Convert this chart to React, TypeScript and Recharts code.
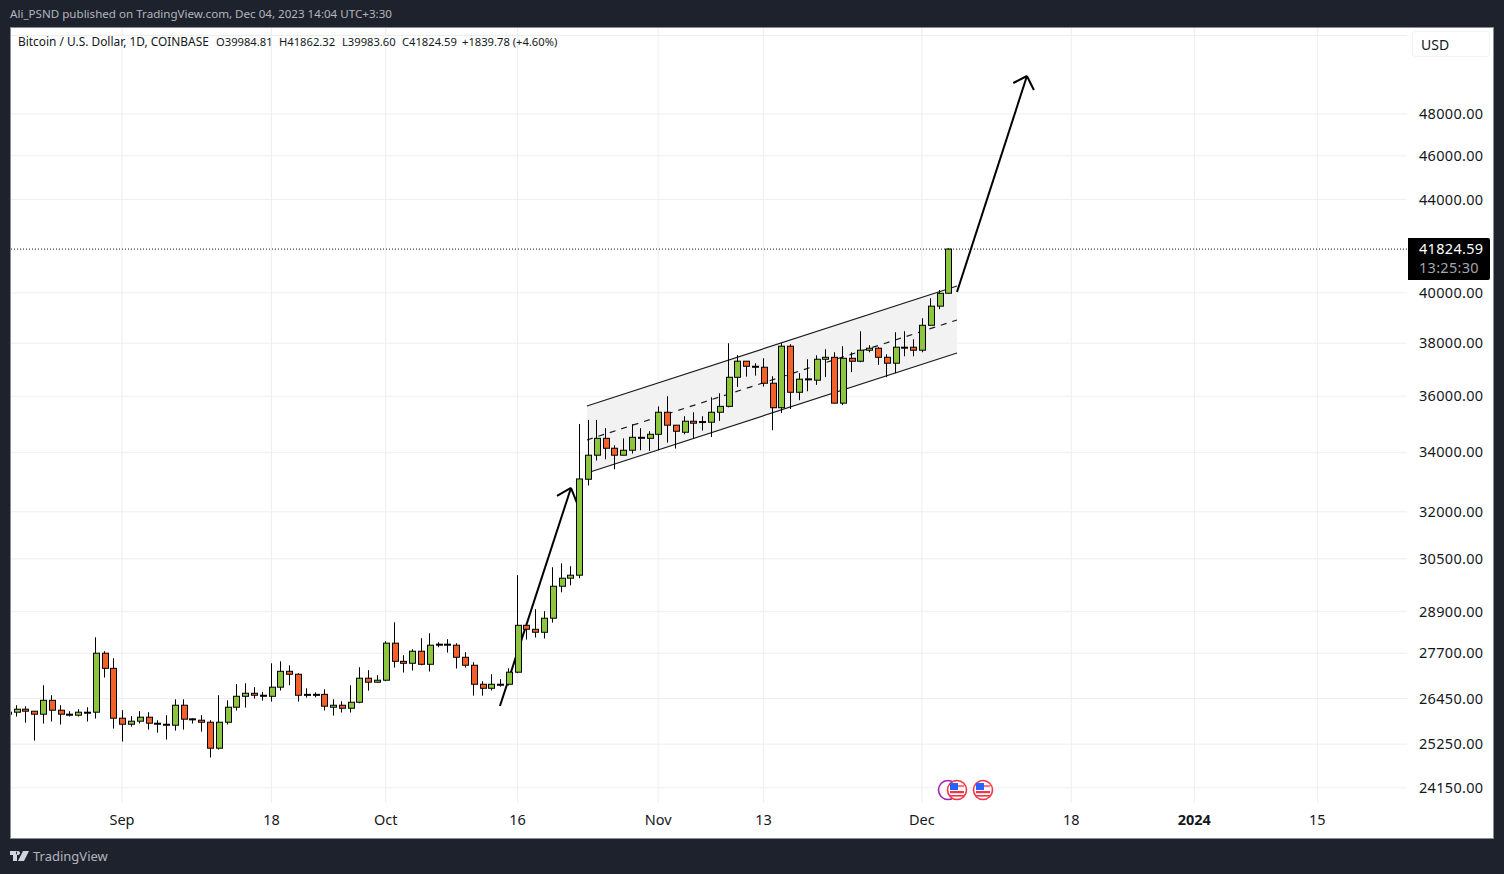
import React from 'react';
import { Area, Bar, CartesianGrid, ComposedChart, ReferenceLine, XAxis, YAxis } from 'recharts';

// day number counted from Sep 1 2023, first candle is Aug 19
const firstDay = -13;

const opens = [
  26086, 26086, 26166, 26113, 26033, 26404, 26139, 26033, 26007, 26077, 26086, 27703, 27279, 25927, 25768, 25848, 25954, 25795,
  25768, 25742, 26272, 25910, 25874, 25821, 25146, 25821, 26219, 26513, 26595, 26513, 26513, 26760, 27197, 27115, 26556, 26556,
  26565, 26219, 26272, 26192, 26352, 27006, 26896, 26951, 27988, 27475, 27420, 27759, 27392, 27930, 27930, 27930, 27588, 27365,
  26840, 26730, 26831, 26840, 27172, 28502, 28387, 28301, 28709, 29660, 29904, 29996, 33078, 33899, 34487, 34140, 33899, 34071,
  34523, 34487, 34630, 35416, 34952, 34702, 35094, 35070, 35059, 35416, 35630, 36701, 37308, 37116, 37079, 36480, 35581, 37883,
  36145, 36631, 36593, 37382, 37457, 35746, 37419, 37307, 37728, 37806, 37457, 37232, 37832, 37844, 37728, 38699, 39461, 39984.81,
];
const highs = [
  26104, 26272, 26245, 26113, 26814, 26541, 26272, 26113, 26166, 26219, 28157, 27760, 27561, 26139, 25980, 26113, 26086, 25874,
  26007, 26431, 26431, 25927, 26007, 25874, 26541, 26404, 26842, 26869, 26760, 26632, 27419, 27476, 27362, 27143, 26730, 26620,
  26702, 26432, 26379, 26813, 27310, 27227, 27089, 28045, 28591, 27645, 27816, 28130, 28273, 28016, 28102, 27988, 27731, 27448,
  26923, 27116, 26978, 27282, 29996, 28502, 28974, 28915, 30240, 30362, 30271, 34996, 35142, 35142, 34845, 34244, 34487, 34987,
  34845, 34737, 35630, 35999, 34952, 35273, 35416, 35273, 35963, 36110, 37996, 37537, 37308, 37231, 37422, 36743, 38000, 37961,
  36856, 37382, 37534, 37767, 37650, 37883, 37650, 38466, 37922, 37844, 37573, 38427, 38466, 38155, 38978, 39782, 40117, 41862.32,
];
const lows = [
  26016, 25971, 25812, 25342, 25786, 25839, 25760, 25971, 25971, 25839, 25918, 27024, 25654, 25317, 25707, 25786, 25627, 25548,
  25368, 25601, 25627, 25786, 25574, 24907, 25112, 25760, 26130, 26210, 26449, 26395, 26369, 26668, 26814, 26369, 26477, 26485,
  26130, 25997, 26077, 26077, 26326, 26666, 26886, 26923, 27300, 27162, 27218, 27365, 27190, 27873, 27721, 27273, 27300, 26530,
  26530, 26666, 26776, 26804, 27144, 28092, 28149, 28121, 28581, 29477, 29690, 29904, 32867, 33715, 33761, 33416, 33899, 33956,
  34071, 34048, 34071, 34336, 34129, 34630, 34487, 34761, 34535, 35106, 35594, 36344, 36726, 36763, 36356, 34774, 35387, 35533,
  35855, 36182, 36418, 36706, 35746, 35675, 36893, 37269, 37650, 37169, 36706, 36856, 37495, 37495, 37650, 38699, 39340, 39983.6,
];
const closes = [
  26033, 26166, 26113, 26033, 26404, 26139, 26033, 26007, 26086, 26086, 27703, 27279, 25927, 25768, 25848, 25954, 25795, 25768,
  25742, 26272, 25901, 25901, 25821, 25146, 25821, 26219, 26513, 26595, 26541, 26541, 26760, 27197, 27115, 26541, 26565, 26565,
  26246, 26272, 26192, 26352, 27006, 26896, 26951, 27988, 27475, 27420, 27759, 27392, 27930, 27959, 27959, 27588, 27365, 26840,
  26730, 26840, 26840, 27172, 28502, 28387, 28301, 28709, 29660, 29904, 29996, 33088, 33899, 34487, 34140, 33899, 34071, 34523,
  34523, 34630, 35416, 34952, 34737, 35094, 35023, 35082, 35416, 35630, 36701, 37308, 37116, 37079, 36479, 35581, 37883, 36145,
  36631, 36643, 37382, 37457, 35746, 37419, 37307, 37728, 37806, 37457, 37232, 37844, 37844, 37728, 38699, 39461, 39983, 41824.59,
];

const priceTicks = [48000, 46000, 44000, 40000, 38000, 36000, 34000, 32000, 30500, 28900, 27700, 26450, 25250, 24150];
const dayTicks = [0, 17, 30, 45, 61, 73, 91, 108, 122, 136];
const dayLabels = ['Sep', '18', 'Oct', '16', 'Nov', '13', 'Dec', '18', '2024', '15'];

const lastPrice = 41824.59;

// parallel channel and the two hand drawn arrows: [day, price]
const channelDays = [52.9, 95];
const channelTop = [35643, 40281];
const channelMid = [34429, 38909];
const channelBottom = [33289, 37622];
const smallArrow = [[43, 26251], [51.08, 32786]];
const smallArrowHead = [[49.49, 32519], [51.08, 32786], [51.76, 32288]];
const bigArrow = [[95, 40035], [102.96, 49896]];
const bigArrowHead = [[101.4, 49541], [102.96, 49896], [103.75, 49189]];

const candles = opens.map((open, i) => ({
  day: firstDay + i,
  open,
  close: closes[i],
  wick: [lows[i], highs[i]],
  body: [Math.min(open, closes[i]), Math.max(open, closes[i])],
}));

const channelRows = channelDays.map((day, i) => ({ day, band: [channelBottom[i], channelTop[i]] }));

const uiFont = '"Noto Sans", sans-serif';
const gridColor = '#eeeeee';

function seg(a: number[], b: number[]) {
  return [{ x: a[0], y: a[1] }, { x: b[0], y: b[1] }] as any;
}

function Wick(props: any) {
  const { x, y, width, height } = props;
  const cx = Math.round(x + width / 2) + 0.5;
  return <line x1={cx} x2={cx} y1={y} y2={y + height} stroke="#000" strokeWidth={1} />;
}

function Body(props: any) {
  const { x, y, width, height, payload } = props;
  const up = payload.close >= payload.open;
  const left = Math.round(x + width / 2) - 2.5;
  return (
    <rect x={left} y={y} width={6} height={Math.max(height, 1)} fill={up ? '#8cc63f' : '#f4602a'} stroke="#000" strokeWidth={1} />
  );
}

function Flag({ x }: { x: number }) {
  return (
    <g transform={`translate(${x} 790)`}>
      <circle r={9.5} fill="#fff" stroke="#f23645" strokeWidth={1.6} />
      <rect x={-7} y={-5} width={14} height={2.2} fill="#f77c80" />
      <rect x={-7} y={1} width={14} height={2.2} fill="#f23645" />
      <rect x={-7} y={5} width={14} height={1.6} fill="#f23645" />
      <rect x={-7} y={-7} width={8} height={7} fill="#2962ff" />
    </g>
  );
}

const ohlcLabels = [
  { text: 'O39984.81', left: 216 },
  { text: 'H41862.32', left: 279 },
  { text: 'L39983.60', left: 342 },
  { text: 'C41824.59', left: 402 },
  { text: '+1839.78 (+4.60%)', left: 462 },
];

function Header() {
  return (
    <>
      <div style={{ position: 'absolute', left: 10, top: 6, fontSize: 11.6, color: '#b2b5be', whiteSpace: 'nowrap' }}>
        Ali_PSND published on TradingView.com, Dec 04, 2023 14:04 UTC+3:30
      </div>
      <div style={{ position: 'absolute', left: 18, top: 33, fontSize: 11.9, color: '#131722', whiteSpace: 'pre' }}>
        Bitcoin / U.S. Dollar, 1D, COINBASE
      </div>
      {ohlcLabels.map((l) => (
        <div key={l.left} style={{ position: 'absolute', left: l.left, top: 34, fontSize: 11.2, color: '#131722', whiteSpace: 'pre' }}>
          {l.text}
        </div>
      ))}
      <div
        style={{
          position: 'absolute', left: 1412, top: 31, width: 78, height: 26, boxSizing: 'border-box', border: '1px solid #f0f3fa',
          borderRadius: 4, background: '#fff', fontSize: 14, color: '#131722', paddingLeft: 8, lineHeight: '25px',
        }}
      >
        USD
      </div>
      <div
        style={{
          position: 'absolute', left: 1408, top: 238, width: 82, height: 42, background: '#000', borderRadius: '0 2px 2px 0',
          fontSize: 14.5, lineHeight: '19px', paddingTop: 1, paddingLeft: 11, boxSizing: 'border-box', letterSpacing: 0.3,
        }}
      >
        <div style={{ color: '#fff' }}>41824.59</div>
        <div style={{ color: '#a3a6af' }}>13:25:30</div>
      </div>
    </>
  );
}

function Logo() {
  return (
    <>
      <svg width={20} height={12} style={{ position: 'absolute', left: 10, top: 850 }}>
        <path d="M0 1h7v10H3V5H0z M8 1a2 2 0 1 0 .01 0z" fill="#d1d4dc" />
        <path d="M8 11L13 1h6l-5 10z" fill="#d1d4dc" />
      </svg>
      <div style={{ position: 'absolute', left: 33, top: 847, fontSize: 13, color: '#b2b5be' }}>TradingView</div>
    </>
  );
}

export default function App() {
  return (
    <div style={{ position: 'absolute', left: 0, top: 0, width: 1504, height: 874, background: '#1e222d', fontFamily: uiFont, overflow: 'hidden' }}>
      <div style={{ position: 'absolute', left: 10, top: 27, width: 1484, height: 812, boxSizing: 'border-box', background: '#fff', border: '1px solid #8a8d96' }} />
      <div style={{ position: 'absolute', left: 0, top: 0 }}>
        <ComposedChart
          width={1504}
          height={874}
          data={candles}
          barGap={-7}
          margin={{ top: 28, right: 0, bottom: 36, left: 11 }}
        >
          <CartesianGrid stroke={gridColor} strokeWidth={1} syncWithTicks />
          <XAxis
            dataKey="day"
            type="number"
            domain={[-12.63, 146.2]}
            allowDataOverflow
            ticks={dayTicks}
            height={35}
            axisLine={false}
            tickLine={false}
            interval={0}
            tick={(p: any) => (
              <text
                x={p.x}
                y={p.y + 14}
                textAnchor="middle"
                fontSize={14.5}
                fontFamily={uiFont}
                fontWeight={dayLabels[dayTicks.indexOf(p.payload.value)] === '2024' ? 700 : 400}
                fill="#131722"
              >
                {dayLabels[dayTicks.indexOf(p.payload.value)]}
              </text>
            )}
          />
          <YAxis
            orientation="right"
            scale="log"
            domain={[23780, 52398]}
            allowDataOverflow
            ticks={priceTicks}
            width={97}
            interval={0}
            axisLine={false}
            tickLine={false}
            tickMargin={6}
            tick={{ fontSize: 14.5, fill: '#131722', fontFamily: uiFont, letterSpacing: 0.3 }}
            tickFormatter={(v: number) => v.toFixed(2)}
          />
          <ReferenceLine y={52000} stroke={gridColor} zIndex={50} />
          <Area data={channelRows} dataKey="band" type="linear" stroke="none" fill="#f2f2f2" fillOpacity={1} isAnimationActive={false} dot={false} activeDot={false} zIndex={60} />
          <ReferenceLine y={lastPrice} stroke="#131722" strokeDasharray="1 2" zIndex={150} />
          <ReferenceLine segment={seg([channelDays[0], channelTop[0]], [channelDays[1], channelTop[1]])} stroke="#1a1a1a" strokeWidth={1.2} zIndex={150} />
          <ReferenceLine segment={seg([channelDays[0], channelMid[0]], [channelDays[1], channelMid[1]])} stroke="#1a1a1a" strokeWidth={1.2} strokeDasharray="6 6" zIndex={150} />
          <ReferenceLine segment={seg([channelDays[0], channelBottom[0]], [channelDays[1], channelBottom[1]])} stroke="#1a1a1a" strokeWidth={1.2} zIndex={150} />
          <ReferenceLine segment={seg(smallArrow[0], smallArrow[1])} stroke="#000" strokeWidth={2} zIndex={150} />
          <ReferenceLine segment={seg(smallArrowHead[0], smallArrowHead[1])} stroke="#000" strokeWidth={2} zIndex={150} />
          <ReferenceLine segment={seg(smallArrowHead[1], smallArrowHead[2])} stroke="#000" strokeWidth={2} zIndex={150} />
          <ReferenceLine segment={seg(bigArrow[0], bigArrow[1])} stroke="#000" strokeWidth={2} zIndex={150} />
          <ReferenceLine segment={seg(bigArrowHead[0], bigArrowHead[1])} stroke="#000" strokeWidth={2} zIndex={150} />
          <ReferenceLine segment={seg(bigArrowHead[1], bigArrowHead[2])} stroke="#000" strokeWidth={2} zIndex={150} />
          <Bar dataKey="wick" barSize={7} shape={<Wick />} isAnimationActive={false} />
          <Bar dataKey="body" barSize={7} shape={<Body />} isAnimationActive={false} />
        </ComposedChart>
      </div>
      <svg width={1504} height={874} style={{ position: 'absolute', left: 0, top: 0, pointerEvents: 'none' }}>
        <circle cx={948} cy={790} r={9.5} fill="#fff" stroke="#9c27b0" strokeWidth={1.6} />
        <Flag x={957} />
        <Flag x={983} />
      </svg>
      <Header />
      <Logo />
    </div>
  );
}
